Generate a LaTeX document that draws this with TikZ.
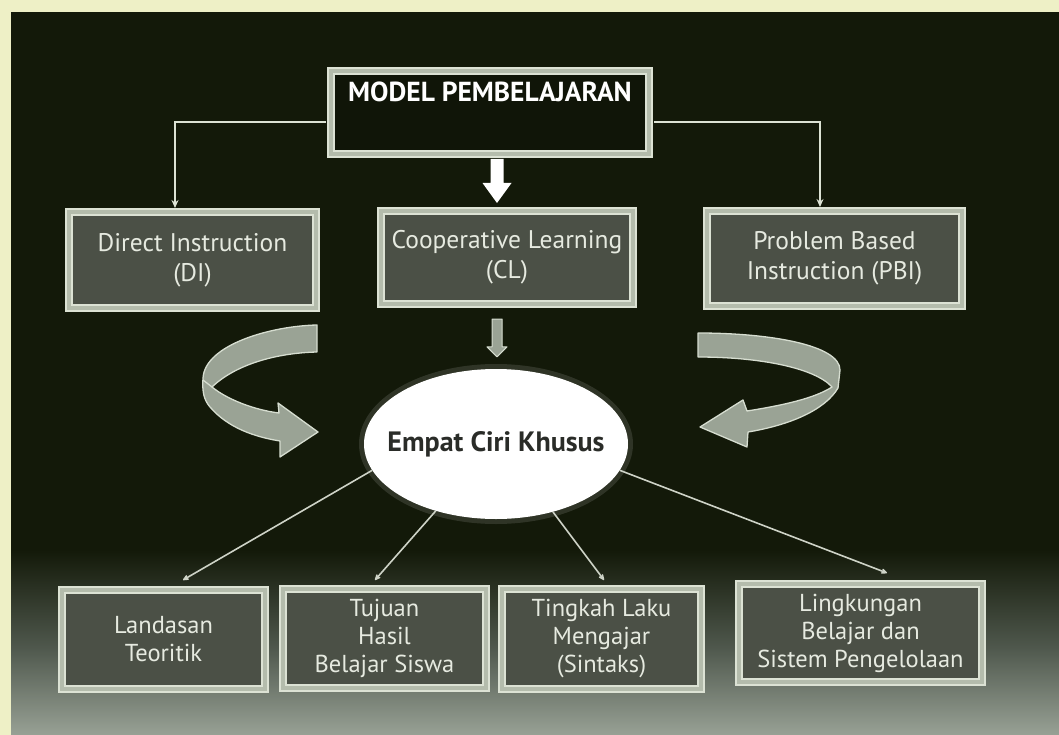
\documentclass[tikz,border=0pt]{standalone}
\usepackage{fontspec}
\setmainfont{PT Sans}
\usetikzlibrary{calc,arrows.meta,shapes.geometric}
\definecolor{paper}{HTML}{EEF0C6}
\definecolor{bg}{HTML}{131909}
\definecolor{boxfill}{HTML}{4B5046}
\definecolor{frame}{HTML}{DCE2D4}
\definecolor{framemid}{HTML}{B4BCAC}
\definecolor{txt}{HTML}{E6EAE0}
\definecolor{ribbon}{HTML}{9AA395}
\definecolor{ribbonedge}{HTML}{D6DDD0}
\definecolor{midgray}{HTML}{515A4F}
\definecolor{bottomgray}{HTML}{98A195}
\definecolor{elltext}{HTML}{2A2C28}
\begin{document}
\begin{tikzpicture}[x=1pt,y=-1pt,
  box/.style={draw=frame, double=framemid, double distance=3.5pt, line width=2pt,
    fill=boxfill, text=txt, align=center, inner sep=0pt,
    font=\fontsize{25.5}{30}\selectfont},
  lowbox/.style={box, font=\fontsize{24.5}{28}\selectfont},
  conn/.style={draw=frame!85!gray, line width=1.6pt, -{Stealth[length=8pt,width=7pt,round]}},
  branch/.style={draw=frame, line width=1.6pt, -{Stealth[length=8pt,width=7pt]}},
  ribbonshape/.style={fill=ribbon, draw=ribbonedge, line width=1.3pt, line join=round},
]
\useasboundingbox (0,0) rectangle (1059,735);
\fill[paper] (0,0) rectangle (1059,735);
\fill[bg] (11,12) rectangle (1059,735);
\shade[top color=bg, bottom color=midgray] (11,550) rectangle (1059,651);
\shade[top color=midgray, bottom color=bottomgray] (11,650) rectangle (1059,735);

% top box
\node[box, fill=bg!85!black, minimum width=318pt, minimum height=83pt,
  label={[anchor=north, yshift=-8pt, text=white, font=\fontsize{27.5}{32}\selectfont\bfseries]north:MODEL PEMBELAJARAN}]
  (top) at (490,112.5) {};

% middle boxes
\node[box, minimum width=247pt, minimum height=96pt] (DI) at (192.5,260) {Direct Instruction\\(DI)};
\node[box, minimum width=252pt, minimum height=93pt] (CL) at (507,257.5) {Cooperative Learning\\(CL)};
\node[box, minimum width=255pt, minimum height=95pt] (PBI) at (834.5,258.5) {Problem Based\\Instruction (PBI)};

% ellipse
\fill[white, opacity=0.12] (496,444) ellipse [x radius=137, y radius=80];
\node[ellipse, fill=white, minimum width=264pt, minimum height=150pt, inner sep=0pt,
  label={[text=elltext, font=\fontsize{28}{32}\selectfont\bfseries]center:Empat Ciri Khusus}] (ell) at (496,444) {};

% bottom boxes
\node[lowbox, minimum width=203pt, minimum height=99pt] (LT) at (163.5,639.5) {Landasan\\Teoritik};
\node[lowbox, minimum width=203pt, minimum height=99pt] (TH) at (384.5,638.5) {Tujuan\\Hasil\\Belajar Siswa};
\node[lowbox, minimum width=199pt, minimum height=100pt] (TL) at (601.5,639) {Tingkah Laku\\Mengajar\\(Sintaks)};
\node[lowbox, minimum width=243pt, minimum height=98pt] (LB) at (860.5,633) {Lingkungan\\Belajar dan\\Sistem Pengelolaan};

% branches from top box
\draw[branch, shorten >=3pt] ($(top.west)+(-4,9.5)$) -| ($(DI.north)+(-17.5,0)$);
\draw[branch, shorten >=3pt] ($(top.east)+(4,9.5)$) -| ($(PBI.north)+(-14.5,0)$);

% big white arrow top -> CL
\coordinate (bigA) at ($(top.south)+(7,4)$);
\coordinate (bigB) at ($(bigA |- CL.north)+(0,-7)$);
\fill[white] ($(bigA)+(-6.5,0)$) -- ($(bigA)+(6.5,0)$) -- ($(bigB)+(6.5,-20)$) -- ($(bigB)+(14.5,-20)$)
  -- (bigB) -- ($(bigB)+(-14.5,-20)$) -- ($(bigB)+(-6.5,-20)$) -- cycle;

% small arrow CL -> ellipse
\coordinate (smA) at ($(CL.south)+(-10,14)$);
\coordinate (smB) at ($(smA |- ell.north)+(0,-12)$);
\filldraw[ribbonshape, line width=1pt] ($(smA)+(-5,0)$) -- ($(smA)+(5,0)$) -- ($(smB)+(5,-10)$) -- ($(smB)+(10,-10)$)
  -- (smB) -- ($(smB)+(-10,-10)$) -- ($(smB)+(-5,-10)$) -- cycle;

% curved ribbon arrows
\filldraw[ribbonshape] (317,325) .. controls (270,326) and (205,345) .. (203,378)
  .. controls (202,392) and (204,400) .. (210,407)
  .. controls (228,428) and (255,437) .. (280,441) -- (280,457) -- (318,432) -- (278,403) -- (279,413)
  .. controls (255,410) and (228,400) .. (212,387)
  .. controls (235,365) and (275,353) .. (317,352) -- cycle;
\draw[ribbonedge, line width=1.3pt] (203,380) -- (212,387);
\filldraw[ribbonshape] (698,333) .. controls (770,333) and (840,345) .. (840,370)
  -- (838,388) .. controls (825,410) and (790,425) .. (748,432) -- (747,447) -- (700,427) -- (743,400) -- (747,411)
  .. controls (785,405) and (815,398) .. (832,387)
  .. controls (815,368) and (760,357) .. (698,357) -- cycle;

% connectors ellipse -> bottom boxes
\draw[conn] (ell.192) -- ($(LT.north)+(19.5,-9)$);
\draw[conn] (ell.228) -- ($(TH.north)+(-9.5,-8)$);
\draw[conn] (ell.310) -- ($(TL.north)+(2.5,-8)$);
\draw[conn] (ell.348) -- ($(LB.north)+(26.5,-10)$);
\end{tikzpicture}
\end{document}
